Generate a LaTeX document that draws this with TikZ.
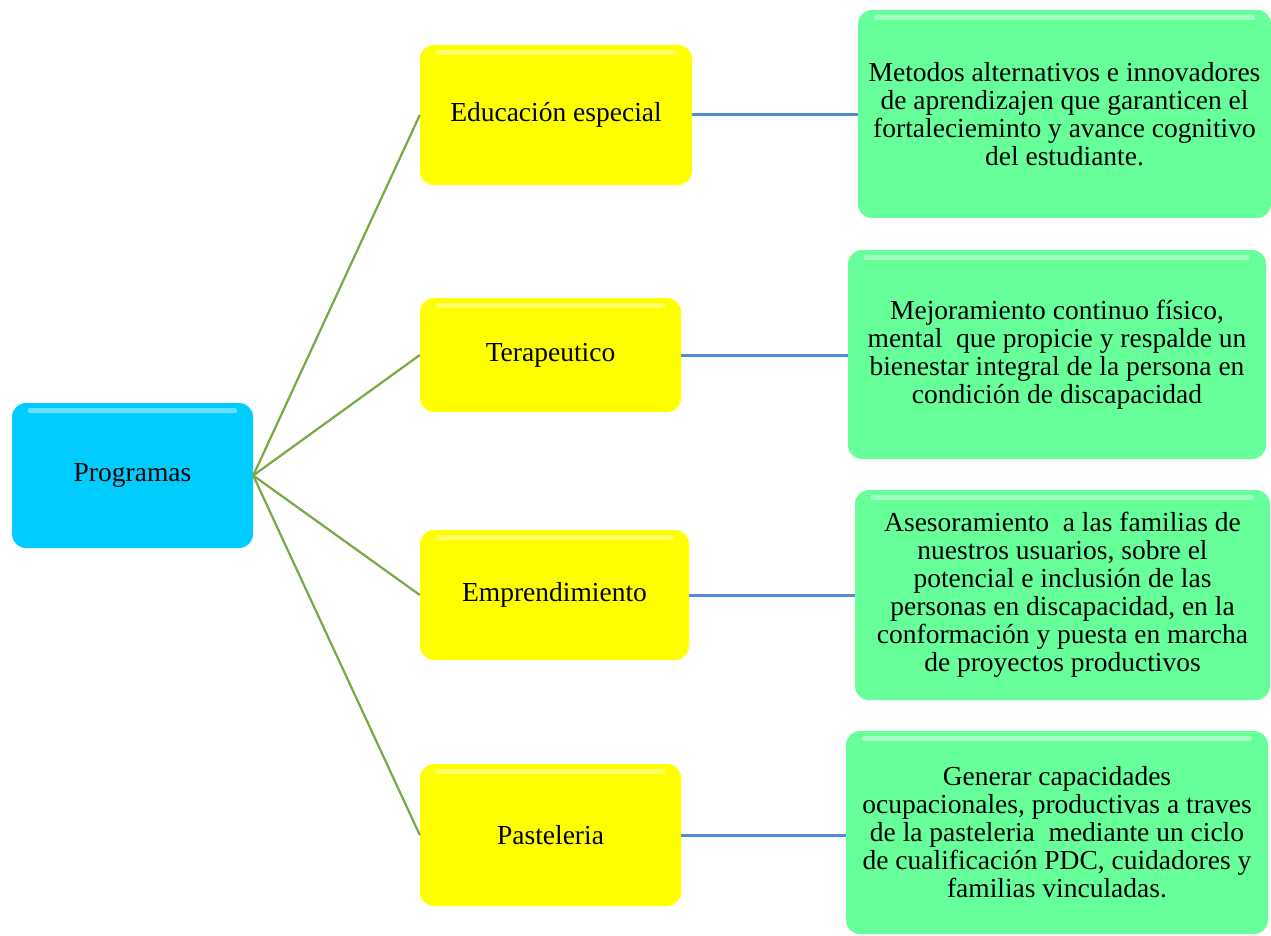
\documentclass[tikz,border=0pt]{standalone}
\usepackage{fontspec}
\setmainfont{Liberation Serif}
\definecolor{cyanbox}{RGB}{0,204,255}
\definecolor{yelbox}{RGB}{255,255,0}
\definecolor{grnbox}{RGB}{102,255,153}
\definecolor{grnline}{RGB}{119,170,68}
\definecolor{bluline}{RGB}{84,141,212}
\tikzset{
  box/.style={rounded corners=14pt, inner sep=0pt, align=center,
    font=\fontsize{27.5}{28}\selectfont, text=black,
    path picture={\fill[white,opacity=0.4,rounded corners=2pt] ([xshift=16pt,yshift=-5pt]path picture bounding box.north west) rectangle ([xshift=-16pt,yshift=-10pt]path picture bounding box.north east);}},
  root/.style={box, fill=cyanbox},
  prog/.style={box, fill=yelbox},
  desc/.style={box, fill=grnbox},
  gline/.style={draw=grnline, line width=2.2pt},
  bline/.style={draw=bluline, line width=3pt}
}
\begin{document}
\begin{tikzpicture}[x=1pt,y=-1pt]
\useasboundingbox (0,0) rectangle (1271,936);
\node[root, minimum width=241pt, minimum height=145pt] (r) at (132.5,475.5) {Programas};
\node[prog, minimum width=272pt, minimum height=140pt] (p1) at (556,115) {Educación especial};
\node[prog, minimum width=261pt, minimum height=114pt] (p2) at (550.5,355) {Terapeutico};
\node[prog, minimum width=269pt, minimum height=130pt] (p3) at (554.5,595) {Emprendimiento};
\node[prog, minimum width=261pt, minimum height=142pt] (p4) at (550.5,835) {Pasteleria};
\node[desc, minimum width=413pt, minimum height=208pt] (d1) at (1064.5,114) {Metodos alternativos e innovadores\\de aprendizajen que garanticen el\\fortaleciemin­to y avance cognitivo\\del estudiante.};
\node[desc, minimum width=418pt, minimum height=209pt] (d2) at (1057,354.5) {Mejoramiento continuo físico,\\mental\ \ que propicie y respalde un\\bienestar integral de la persona en\\condición de discapacidad};
\node[desc, minimum width=415pt, minimum height=210pt] (d3) at (1062.5,595) {Asesoramiento\ \ a las familias de\\nuestros usuarios, sobre el\\potencial e inclusión de las\\personas en discapacidad, en la\\conformación y puesta en marcha\\de proyectos productivos};
\node[desc, minimum width=422pt, minimum height=203pt] (d4) at (1057,832.5) {Generar capacidades\\ocupacionales, productivas a traves\\de la pasteleria\ \ mediante un ciclo\\de cualificación PDC, cuidadores y\\familias vinculadas.};
\foreach \p in {p1,p2,p3,p4} \draw[gline] (r.east) -- (\p.west);
\draw[bline] (p1.east) -- (p1.east -| d1.west);
\draw[bline] (p2.east) -- (p2.east -| d2.west);
\draw[bline] (p3.east) -- (p3.east -| d3.west);
\draw[bline] (p4.east) -- (p4.east -| d4.west);
\end{tikzpicture}
\end{document}
